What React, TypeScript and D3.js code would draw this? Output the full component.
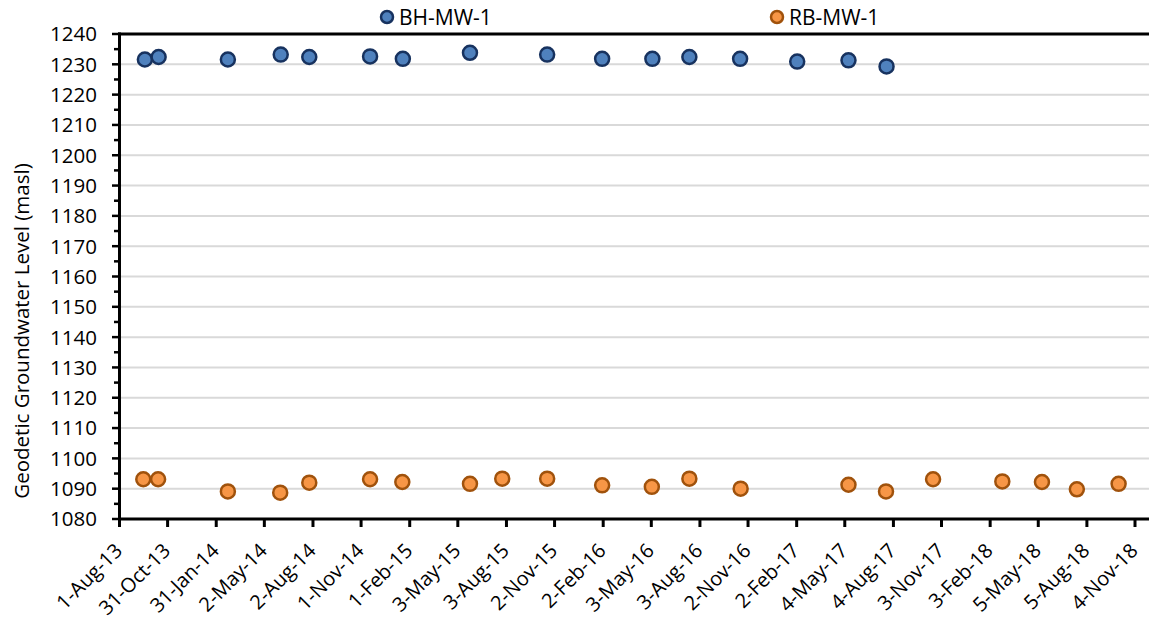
import * as d3 from 'd3'
import { useEffect, useRef } from 'react'

const tickLabels = ['1-Aug-13', '31-Oct-13', '31-Jan-14', '2-May-14', '2-Aug-14', '1-Nov-14', '1-Feb-15', '3-May-15', '3-Aug-15', '2-Nov-15', '2-Feb-16', '3-May-16', '3-Aug-16', '2-Nov-16', '2-Feb-17', '4-May-17', '4-Aug-17', '3-Nov-17', '3-Feb-18', '5-May-18', '5-Aug-18', '4-Nov-18']
const yTicks = [1080, 1090, 1100, 1110, 1120, 1130, 1140, 1150, 1160, 1170, 1180, 1190, 1200, 1210, 1220, 1230, 1240]

const bhDates = ['2013-09-18', '2013-10-14', '2014-02-22', '2014-06-02', '2014-07-26', '2014-11-18', '2015-01-19', '2015-05-26', '2015-10-19', '2016-01-31', '2016-05-05', '2016-07-14', '2016-10-18', '2017-02-03', '2017-05-11', '2017-07-22']
const bhLevels = [1231.6, 1232.4, 1231.6, 1233.2, 1232.4, 1232.6, 1231.8, 1233.8, 1233.2, 1231.8, 1231.8, 1232.4, 1231.8, 1230.9, 1231.3, 1229.3]

const rbDates = ['2013-09-15', '2013-10-13', '2014-02-22', '2014-06-01', '2014-07-26', '2014-11-18', '2015-01-18', '2015-05-26', '2015-07-26', '2015-10-19', '2016-01-31', '2016-05-04', '2016-07-14', '2016-10-19', '2017-05-11', '2017-07-21', '2017-10-18', '2018-02-26', '2018-05-12', '2018-07-17', '2018-10-04']
const rbLevels = [1093.1, 1093.1, 1089.1, 1088.7, 1092.0, 1093.1, 1092.2, 1091.6, 1093.3, 1093.3, 1091.1, 1090.6, 1093.3, 1090.0, 1091.3, 1089.1, 1093.1, 1092.4, 1092.2, 1089.8, 1091.6]

const seriesNames = ['BH-MW-1', 'RB-MW-1']

export default function App() {
    const svgRef = useRef<SVGSVGElement>(null)

    useEffect(() => {
        makeChart(svgRef)
    }, [])

    function makeChart(svgRef: React.RefObject<SVGSVGElement>) {
        const width = 1149
        const height = 620
        const font = '"Open Sans", Lato, sans-serif'

        const svg = d3.select(svgRef.current).attr('width', width).attr('height', height)
        svg.selectAll('*').remove()

        const parseTick = d3.utcParse('%d-%b-%y')
        const parseIso = d3.utcParse('%Y-%m-%d')
        const tickDates = tickLabels.map(t => parseTick(t) as Date)

        const x = d3.scaleUtc()
            .domain([tickDates[0], tickDates[tickDates.length - 1]])
            .range([119.5, 1135])
        const y = d3.scaleLinear().domain([1080, 1240]).range([519, 34])
        const plotRight = 1149

        // gridlines
        svg.append('g')
            .selectAll('line')
            .data(yTicks.filter(v => v > 1080 && v < 1240))
            .enter()
            .append('line')
            .attr('x1', 119.5).attr('x2', plotRight)
            .attr('y1', d => y(d)).attr('y2', d => y(d))
            .attr('stroke', '#d9d9d9')
            .attr('stroke-width', 2)

        // minor y ticks
        const minor = d3.range(1085, 1240, 10)
        svg.append('g')
            .selectAll('line')
            .data(minor)
            .enter()
            .append('line')
            .attr('x1', 114).attr('x2', 119.5)
            .attr('y1', d => y(d)).attr('y2', d => y(d))
            .attr('stroke', '#000')
            .attr('stroke-width', 2.5)

        // major y ticks + labels
        const yg = svg.append('g')
        yg.selectAll('line')
            .data(yTicks)
            .enter()
            .append('line')
            .attr('x1', 112).attr('x2', 119.5)
            .attr('y1', d => y(d)).attr('y2', d => y(d))
            .attr('stroke', '#000')
            .attr('stroke-width', 2.5)
        yg.selectAll('text')
            .data(yTicks)
            .enter()
            .append('text')
            .attr('x', 97)
            .attr('y', d => y(d))
            .attr('dy', '0.36em')
            .attr('text-anchor', 'end')
            .attr('font-family', font)
            .attr('font-size', 20.5)
            .attr('fill', '#000')
            .text(d => d)

        // x ticks + labels
        const xg = svg.append('g')
        xg.selectAll('line')
            .data(tickDates)
            .enter()
            .append('line')
            .attr('x1', d => x(d)).attr('x2', d => x(d))
            .attr('y1', 519).attr('y2', 527)
            .attr('stroke', '#000')
            .attr('stroke-width', 3)
        xg.selectAll('text')
            .data(tickLabels)
            .enter()
            .append('text')
            .attr('transform', (d, i) => `translate(${x(tickDates[i]) + 4},${552}) rotate(-45)`)
            .attr('text-anchor', 'end')
            .attr('font-family', font)
            .attr('font-size', 20)
            .attr('fill', '#000')
            .text(d => d)

        // axes lines
        svg.append('line')
            .attr('x1', 119.5).attr('x2', 119.5)
            .attr('y1', 32.5).attr('y2', 520.5)
            .attr('stroke', '#000').attr('stroke-width', 3)
        svg.append('line')
            .attr('x1', 118).attr('x2', plotRight)
            .attr('y1', 519).attr('y2', 519)
            .attr('stroke', '#000').attr('stroke-width', 3)
        svg.append('line')
            .attr('x1', 118).attr('x2', plotRight)
            .attr('y1', 34).attr('y2', 34)
            .attr('stroke', '#000').attr('stroke-width', 3)

        // axis title
        svg.append('text')
            .attr('transform', 'translate(29,331) rotate(-90)')
            .attr('text-anchor', 'middle')
            .attr('font-family', font)
            .attr('font-size', 20.5)
            .attr('fill', '#000')
            .text('Geodetic Groundwater Level (masl)')

        const series = [
            { name: seriesNames[0], dates: bhDates, levels: bhLevels, fill: '#4f81bd', stroke: '#17325f' },
            { name: seriesNames[1], dates: rbDates, levels: rbLevels, fill: '#f79646', stroke: '#a0520c' },
        ]

        series.forEach(s => {
            svg.append('g')
                .selectAll('circle')
                .data(s.dates.map((d, i) => ({ date: parseIso(d) as Date, level: s.levels[i] })))
                .enter()
                .append('circle')
                .attr('cx', d => x(d.date))
                .attr('cy', d => y(d.level))
                .attr('r', 7)
                .attr('fill', s.fill)
                .attr('stroke', s.stroke)
                .attr('stroke-width', 2.5)
        })

        // legend
        const legendX = [387, 777]
        series.forEach((s, i) => {
            const g = svg.append('g').attr('transform', `translate(${legendX[i]},17)`)
            g.append('circle')
                .attr('r', 6)
                .attr('fill', s.fill)
                .attr('stroke', s.stroke)
                .attr('stroke-width', 2.5)
            g.append('text')
                .attr('x', 12)
                .attr('dy', '0.36em')
                .attr('font-family', font)
                .attr('font-size', 21)
                .attr('fill', '#000')
                .text(s.name)
        })
    }

    return (
        <svg ref={svgRef} style={{ position: 'absolute', left: 0, top: 0, display: 'block' }}></svg>
    )
}
